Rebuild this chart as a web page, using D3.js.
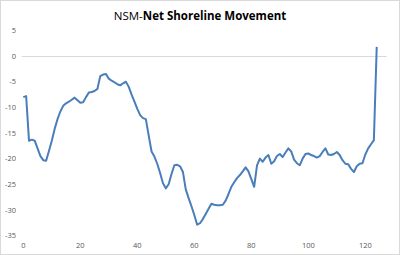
<!DOCTYPE html>
<html>
<head>
<meta charset="utf-8">
<script src="https://cdn.jsdelivr.net/npm/d3@7"></script>
<style>
  body { margin: 0; background: #fff; }
  text { font-family: "Open Sans", "Liberation Sans", sans-serif; }
</style>
</head>
<body>
<div id="chart"></div>
<script>
// data (transect index -> NSM in m)
const nsm = [
  -8.0, -7.8, -16.5, -16.3, -16.5, -18.0, -19.5, -20.3, -20.4, -18.5,
  -16.5, -14.2, -12.3, -10.8, -9.7, -9.2, -8.9, -8.5, -8.1, -8.6,
  -9.1, -9.0, -8.0, -7.1, -7.0, -6.8, -6.4, -3.9, -3.6, -3.5,
  -4.4, -4.8, -5.1, -5.5, -5.7, -5.3, -5.0, -6.0, -7.5, -8.9,
  -10.3, -11.5, -12.1, -12.3, -15.5, -18.6, -19.6, -21.0, -22.8, -24.8,
  -25.8, -25.0, -23.0, -21.3, -21.2, -21.5, -22.6, -26.0, -27.7, -29.3,
  -31.0, -32.9, -32.6, -31.8, -30.8, -29.8, -28.8, -29.0, -29.1, -29.1,
  -29.0, -28.2, -26.9, -25.5, -24.6, -23.8, -23.2, -22.5, -21.7, -22.5,
  -24.0, -25.5, -21.3, -20.0, -20.6, -19.8, -19.3, -21.0, -20.5, -19.5,
  -19.1, -19.7, -18.8, -18.0, -18.6, -20.2, -20.9, -21.3, -20.0, -19.1,
  -19.0, -19.3, -19.5, -19.8, -19.5, -18.7, -18.0, -19.2, -19.3, -19.1,
  -18.7, -19.3, -20.3, -21.0, -21.1, -22.0, -22.6, -21.5, -21.0, -20.9,
  -19.2, -18.0, -17.2, -16.4, 1.8
];
const xTicks = [0, 20, 40, 60, 80, 100, 120];
const yTicks = [5, 0, -5, -10, -15, -20, -25, -30, -35];

const width = 400;
const height = 255;

const svg = d3.select("#chart")
              .append("svg")
              .attr("width", width)
              .attr("height", height);

// outer chart frame
svg.append("rect")
   .attr("x", 0.5).attr("y", 0.5)
   .attr("width", width - 1).attr("height", height - 1)
   .attr("fill", "#fff")
   .attr("stroke", "#d9d9d9");

const x = d3.scaleLinear().domain([0, 127.5]).range([23.3, 386.7]);
const y = d3.scaleLinear().domain([-35, 5]).range([235.5, 30.5]);

// horizontal axis line sits at zero
svg.append("line")
   .attr("x1", x(0) - 1.5).attr("x2", x(127.5))
   .attr("y1", Math.round(y(0)) + 0.5).attr("y2", Math.round(y(0)) + 0.5)
   .attr("stroke", "#d9d9d9")
   .attr("stroke-width", 1);

// y labels
svg.selectAll("text.ylab").data(yTicks).enter()
   .append("text")
   .attr("class", "ylab")
   .attr("x", 16)
   .attr("y", d => y(d))
   .attr("dy", "0.35em")
   .attr("text-anchor", "end")
   .attr("font-size", "7.5px")
   .attr("fill", "#595959")
   .text(d => d);

// x labels along the bottom
svg.selectAll("text.xlab").data(xTicks).enter()
   .append("text")
   .attr("class", "xlab")
   .attr("x", d => x(d))
   .attr("y", 245)
   .attr("dy", "0.35em")
   .attr("text-anchor", "middle")
   .attr("font-size", "7.5px")
   .attr("fill", "#595959")
   .text(d => d);

const line = d3.line()
               .x((d, i) => x(i))
               .y(d => y(d));

svg.append("path")
   .datum(nsm)
   .attr("fill", "none")
   .attr("stroke", "#4a7ebb")
   .attr("stroke-width", 2)
   .attr("stroke-linejoin", "round")
   .attr("d", line);

// title
const title = svg.append("text")
   .attr("x", width / 2)
   .attr("y", 16)
   .attr("dy", "0.35em")
   .attr("text-anchor", "middle")
   .attr("font-size", "11.5px")
   .attr("fill", "#000");
title.append("tspan").text("NSM-");
title.append("tspan").attr("font-weight", "bold").text("Net Shoreline Movement");
</script>
</body>
</html>
